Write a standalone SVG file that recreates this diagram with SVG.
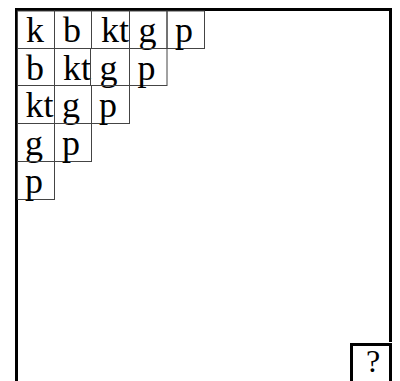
<svg xmlns="http://www.w3.org/2000/svg" width="400" height="381" viewBox="0 0 400 381">
<style>
.cell rect{fill:none;stroke:#444;stroke-width:1}
.cell text{font-family:"Liberation Serif","Times New Roman",serif;font-size:36px;fill:#000}
.frame{fill:none;stroke:#000;stroke-width:3}
.q rect{fill:#fff;stroke:#000;stroke-width:3}
.q text{font-family:"Liberation Serif","Times New Roman",serif;font-size:32px;fill:#000}
</style>
<rect width="400" height="381" fill="#fff"/>
<g id="frame">
<polyline class="frame" points="16.5,381 16.5,9.5 390.5,9.5 390.5,342"/>
</g>
<g id="r1c1" class="cell"><rect x="17.5" y="11" width="37" height="37.5"/><text x="26" y="42">k</text></g>
<g id="r1c2" class="cell"><rect x="54.5" y="11" width="37" height="37.5"/><text x="63" y="42">b</text></g>
<g id="r1c3" class="cell"><rect x="91.5" y="11" width="38" height="37.5"/><text x="101" y="42">kt</text></g>
<g id="r1c4" class="cell"><rect x="129.5" y="11" width="37.5" height="37.5"/><text x="138.5" y="42">g</text></g>
<g id="r1c5" class="cell"><rect x="167" y="11" width="37.5" height="37.5"/><text x="175" y="42">p</text></g>
<g id="r2c1" class="cell"><rect x="17.5" y="48.5" width="37" height="37"/><text x="26" y="79.5">b</text></g>
<g id="r2c2" class="cell"><rect x="54.5" y="48.5" width="36" height="37"/><text x="63" y="79.5">kt</text></g>
<g id="r2c3" class="cell"><rect x="90.5" y="48.5" width="39" height="37"/><text x="99.5" y="79.5">g</text></g>
<g id="r2c4" class="cell"><rect x="129.5" y="48.5" width="37.5" height="37"/><text x="137.5" y="79.5">p</text></g>
<g id="r3c1" class="cell"><rect x="17.5" y="85.5" width="37" height="38"/><text x="25.5" y="117">kt</text></g>
<g id="r3c2" class="cell"><rect x="54.5" y="85.5" width="37" height="38"/><text x="62" y="117">g</text></g>
<g id="r3c3" class="cell"><rect x="91.5" y="85.5" width="38" height="38"/><text x="99" y="117">p</text></g>
<g id="r4c1" class="cell"><rect x="17.5" y="123.5" width="37" height="38"/><text x="25" y="155">g</text></g>
<g id="r4c2" class="cell"><rect x="54.5" y="123.5" width="37" height="38"/><text x="62" y="155">p</text></g>
<g id="r5c1" class="cell"><rect x="17.5" y="161.5" width="37" height="38"/><text x="25" y="193">p</text></g>
<g id="question" class="q"><rect x="351.5" y="344.5" width="39" height="40"/><text x="366" y="372">?</text></g>
</svg>
